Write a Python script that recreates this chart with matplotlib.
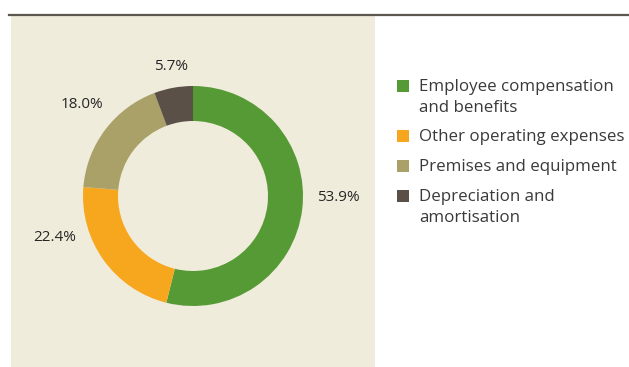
import matplotlib.pyplot as plt
from matplotlib.patches import Rectangle
from matplotlib.lines import Line2D

plt.rcParams['font.family'] = ['Open Sans', 'DejaVu Sans']

categories = ['Employee compensation\nand benefits', 'Other operating expenses',
              'Premises and equipment', 'Depreciation and\namortisation']
shares = [53.9, 22.4, 18.0, 5.7]
colors = ['#569a35', '#f7a71e', '#a9a168', '#5b5048']

W, H = 629, 367
fig = plt.figure(figsize=(W / 100, H / 100), dpi=100)

# top rule and beige panel behind the donut
fig.add_artist(Line2D([9 / W, 1], [1 - 14.5 / H] * 2, color='#5b5650', lw=1.6))
fig.add_artist(Rectangle((11 / W, 0), (375 - 11) / W, (367 - 16) / H,
                         facecolor='#f0ecdc', edgecolor='none', zorder=0))

# donut: centre (193, 196) px, outer radius 110 px
cx, cy, R = 193, 196, 110
ax = fig.add_axes([(cx - R) / W, (H - cy - R) / H, 2 * R / W, 2 * R / H])
wedges, _ = ax.pie(shares, colors=colors, startangle=90, counterclock=False,
                   radius=1, wedgeprops=dict(width=35 / R, edgecolor='none'))
ax.set_xlim(-1, 1)
ax.set_ylim(-1, 1)
ax.set_aspect('equal')
ax.axis('off')

# percentage labels around the ring
label_xy = [(1.318, -0.01), (-1.255, -0.373), (-1.005, 0.836), (-0.2, 1.173)]
for v, (x, y) in zip(shares, label_xy):
    ax.text(x, y, f'{v:.1f}%', ha='center', va='center', fontsize=11,
            color='#262626')

# legend
row_y = [86, 136, 166, 196]
for lab, c, y in zip(categories, colors, row_y):
    fig.add_artist(Rectangle((397 / W, 1 - (y + 6) / H), 12 / W, 12 / H,
                             facecolor=c, edgecolor='none'))
    fig.text(419 / W, 1 - (y - 7) / H, lab, ha='left', va='top', fontsize=12.2,
             color='#3a3a3a', linespacing=1.38)

fig.savefig('out.png', dpi=100)
